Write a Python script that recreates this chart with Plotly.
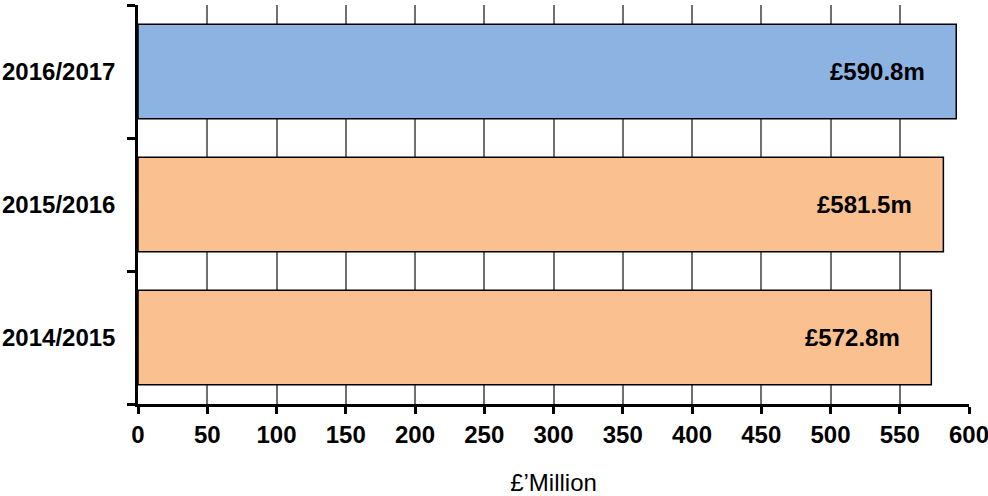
import plotly.graph_objects as go

categories = ["2014/2015", "2015/2016", "2016/2017"]
values = [572.8, 581.5, 590.8]
bar_colors = ["#FAC090", "#FAC090", "#8DB3E2"]
labels = ["£572.8m", "£581.5m", "£590.8m"]
x_ticks = [0, 50, 100, 150, 200, 250, 300, 350, 400, 450, 500, 550, 600]

FONT = "Arial, Liberation Sans, sans-serif"
FS = 24

fig = go.Figure()
fig.add_trace(go.Bar(
    y=categories, x=values, orientation="h",
    marker=dict(color=bar_colors, line=dict(color="black", width=1.5)),
    width=0.71, hoverinfo="skip",
))

for c, v, t in zip(categories, values, labels):
    fig.add_annotation(x=v, y=c, text="<b>%s</b>" % t, showarrow=False,
                       xanchor="right", xshift=-29,
                       font=dict(family=FONT, size=FS, color="black"))

fig.update_layout(
    width=988, height=496,
    margin=dict(l=138, r=19, t=5, b=92),
    plot_bgcolor="white", paper_bgcolor="white",
    showlegend=False,
    font=dict(family=FONT, size=FS, color="black"),
    xaxis=dict(
        range=[0, 600], tickvals=x_ticks,
        ticktext=["<b>%d</b>" % v for v in x_ticks],
        showgrid=True, gridcolor="#707070", gridwidth=1.5,
        showline=True, linecolor="black", linewidth=3,
        ticks="outside", ticklen=7, tickwidth=2.5, tickcolor="black",
        zeroline=False, fixedrange=True, automargin=False,
        ticklabeloverflow="allow",
        title=dict(text="£’Million", font=dict(family=FONT, size=FS), standoff=33),
    ),
    yaxis=dict(
        categoryorder="array", categoryarray=categories,
        tickvals=categories,
        ticktext=["<b>%s</b>" % c for c in categories],
        tickson="boundaries", automargin=False, fixedrange=True,
        showline=True, linecolor="black", linewidth=2.5,
        ticks="outside", ticklen=8, tickwidth=2.5, tickcolor="black",
        showgrid=False, zeroline=False, ticklabelstandoff=15,
        range=[-0.5, 2.5],
    ),
)

fig.write_html("out.html", config={"displayModeBar": False},
               post_script="document.body.style.margin='0';document.body.style.overflow='hidden';")
